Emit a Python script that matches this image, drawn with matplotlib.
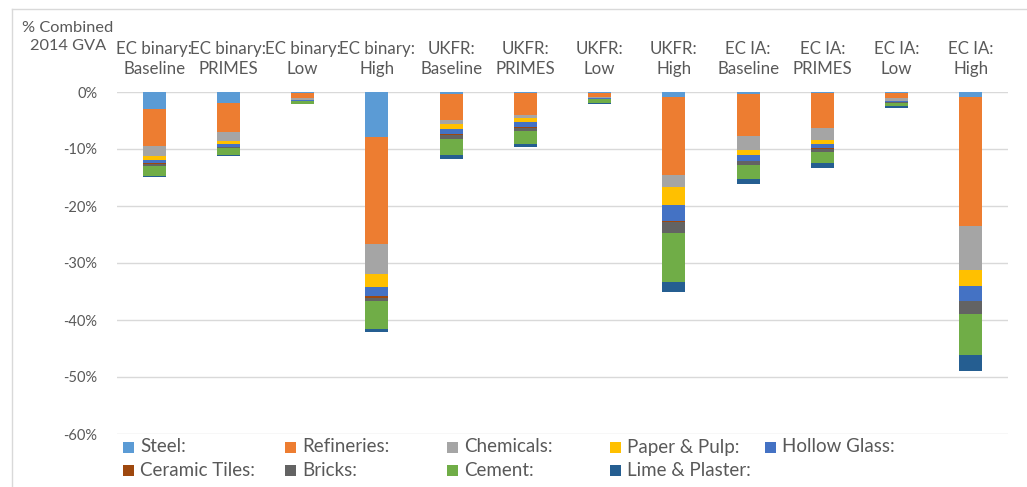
import matplotlib
matplotlib.use("Agg")
import matplotlib.pyplot as plt
from matplotlib.patches import Rectangle
from matplotlib.lines import Line2D
from matplotlib.ticker import FuncFormatter
import numpy as np

plt.rcParams['font.family'] = ['Lato', 'DejaVu Sans']

# categories (scenario names)
categories = ['EC binary:\nBaseline', 'EC binary:\nPRIMES', 'EC binary:\nLow', 'EC binary:\nHigh',
              'UKFR:\nBaseline', 'UKFR:\nPRIMES', 'UKFR:\nLow', 'UKFR:\nHigh',
              'EC IA:\nBaseline', 'EC IA:\nPRIMES', 'EC IA:\nLow', 'EC IA:\nHigh']

# % reduction of combined 2014 GVA per sector
steel      = [2.9, 2.0, 0.2, 7.9, 0.4, 0.25, 0.1, 0.8, 0.4, 0.25, 0.1, 0.8]
refineries = [6.5, 5.1, 0.9, 18.7, 4.5, 3.7, 0.7, 13.8, 7.35, 6.05, 1.0, 22.7]
chemicals  = [1.9, 1.5, 0.25, 5.3, 0.65, 0.6, 0.2, 2.1, 2.5, 2.2, 0.45, 7.8]
paper      = [0.7, 0.6, 0.1, 2.35, 0.9, 0.75, 0.1, 3.1, 0.8, 0.65, 0.1, 2.65]
hollow     = [0.5, 0.4, 0.05, 1.6, 1.0, 0.9, 0.05, 2.9, 1.0, 0.75, 0.1, 2.65]
ceramic    = [0.2, 0.1, 0.02, 0.3, 0.1, 0.1, 0.02, 0.1, 0.1, 0.05, 0.02, 0.1]
bricks     = [0.3, 0.2, 0.05, 0.5, 0.75, 0.5, 0.1, 1.9, 0.7, 0.5, 0.1, 2.2]
cement     = [1.7, 1.2, 0.45, 4.9, 2.8, 2.3, 0.6, 8.7, 2.5, 2.0, 0.55, 7.2]
lime       = [0.3, 0.2, 0.15, 0.6, 0.65, 0.6, 0.2, 1.7, 0.8, 0.8, 0.35, 2.9]

series_names = ['Steel:', 'Refineries:', 'Chemicals:', 'Paper & Pulp:', 'Hollow Glass:',
                'Ceramic Tiles:', 'Bricks:', 'Cement:', 'Lime & Plaster:']
series = [steel, refineries, chemicals, paper, hollow, ceramic, bricks, cement, lime]
colors = ['#5B9BD5', '#ED7D31', '#A5A5A5', '#FFC000', '#4472C4',
          '#9E480E', '#636363', '#70AD47', '#255E91']

W, H = 1027, 487
fig = plt.figure(figsize=(W / 100, H / 100), dpi=100)
ax = fig.add_axes([117 / W, 1 - 434 / H, (1008 - 117) / W, (434 - 92) / H])

x = np.arange(len(categories))
bottom = np.zeros(len(categories))
for vals, col in zip(series, colors):
    v = -np.array(vals)
    ax.bar(x, v, bottom=bottom, width=0.31, color=col, edgecolor='none', zorder=3)
    bottom += v

ax.set_xlim(-0.5, len(categories) - 0.5)
ax.set_ylim(-60, 0)
ax.set_yticks(np.arange(-60, 1, 10))
ax.yaxis.set_major_formatter(FuncFormatter(lambda v, p: f'{v:.0f}%'))
ax.grid(axis='y', color='#D9D9D9', linewidth=1, zorder=0)
for s in ax.spines.values():
    s.set_visible(False)
ax.tick_params(axis='y', length=0, pad=14, labelsize=10.5, labelcolor='#595959')

ax.xaxis.tick_top()
ax.set_xticks(x)
ax.set_xticklabels(categories, fontsize=12.2, color='#595959')
ax.tick_params(axis='x', length=0, pad=11)
for lab in ax.get_xticklabels():
    lab.set_linespacing(1.25)

fig.text(68 / W, 1 - 37 / H, '% Combined\n2014 GVA', ha='center', va='center',
         fontsize=11.8, color='#595959', linespacing=1.4)

# chart border (left and top)
fig.add_artist(Line2D([12 / W, 12 / W], [0, 1 - 9 / H], transform=fig.transFigure,
                      color='#D9D9D9', linewidth=1))
fig.add_artist(Line2D([12 / W, 1], [1 - 9 / H, 1 - 9 / H], transform=fig.transFigure,
                      color='#D9D9D9', linewidth=1))

# legend, Excel-style grid
col_x = [123, 285, 447, 610, 765]
row_y = [447, 470]
for i, (name, col) in enumerate(zip(series_names, colors)):
    r, c = divmod(i, 5)
    mx, my = col_x[c], row_y[r]
    fig.add_artist(Rectangle((mx / W, 1 - (my + 5.5) / H), 11 / W, 11 / H,
                             transform=fig.transFigure, facecolor=col, edgecolor='none'))
    fig.text((mx + 17) / W, 1 - my / H, name, ha='left', va='center',
             fontsize=13.5, color='#595959')

fig.savefig('out.png', dpi=100)
